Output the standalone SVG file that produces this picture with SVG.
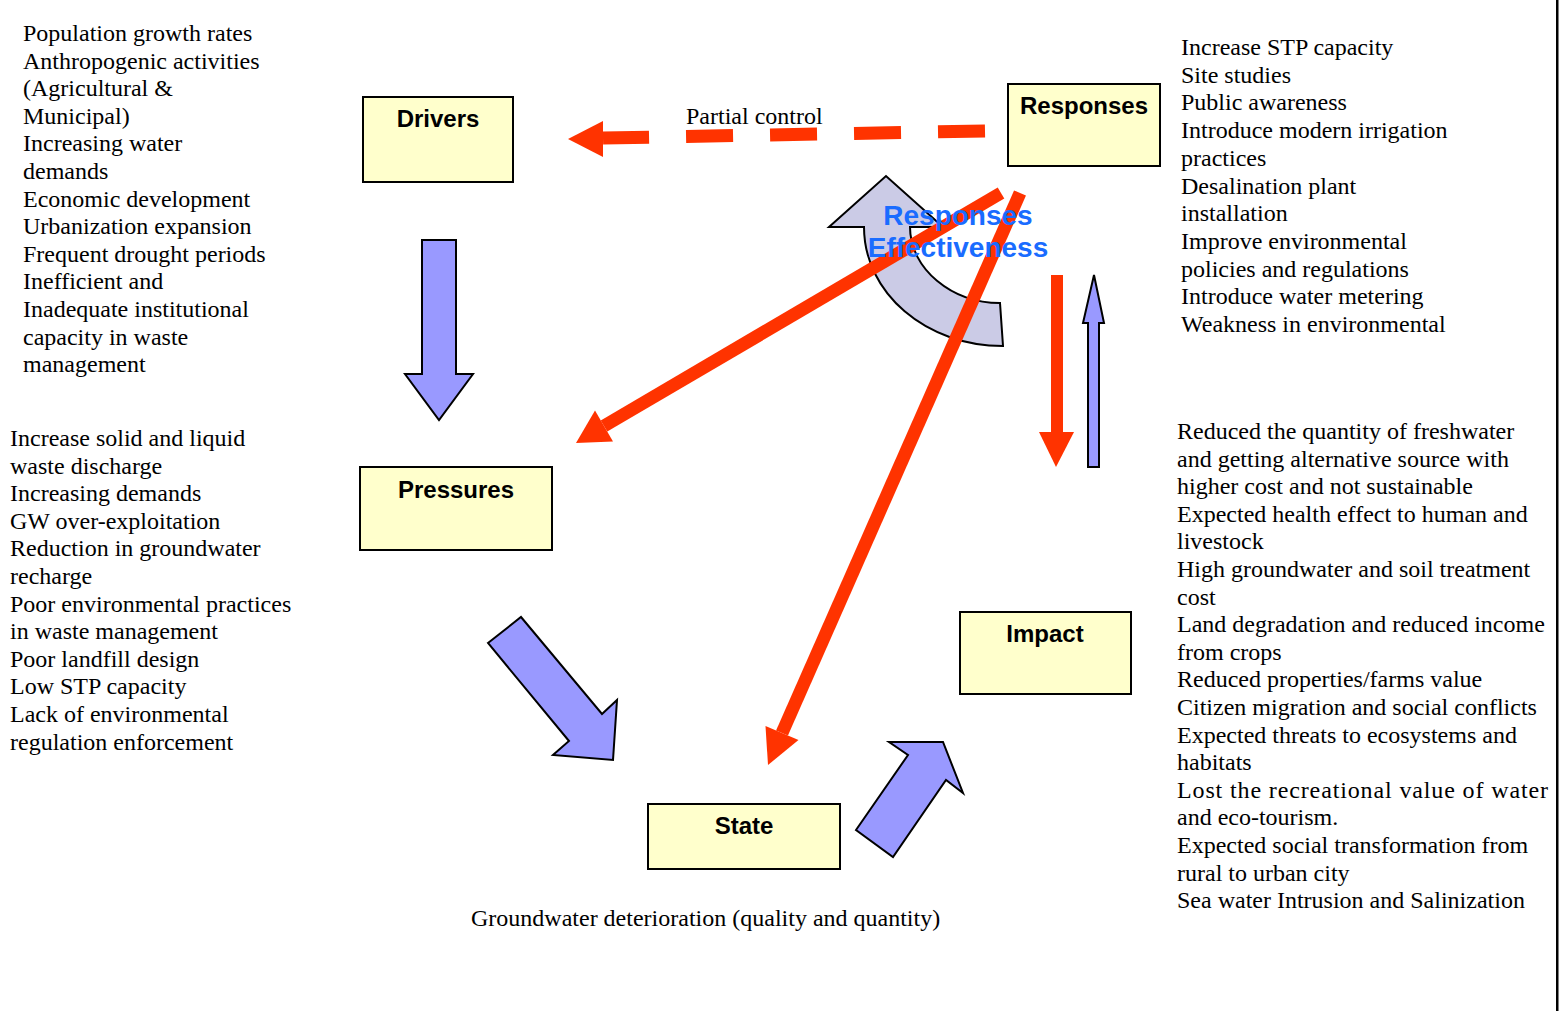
<svg xmlns="http://www.w3.org/2000/svg" width="1559" height="1011" viewBox="0 0 1559 1011">
<style>
.box{fill:#ffffcc;stroke:#000;stroke-width:2}
.lbl{font-family:"Liberation Sans",Arial,sans-serif;font-weight:bold;font-size:24px;fill:#000;text-anchor:middle}
.txt{font-family:"Liberation Serif","Times New Roman",serif;font-size:24px;fill:#000}
.blue{fill:#9999ff;stroke:#000;stroke-width:2;stroke-linejoin:miter}
.red{stroke:#ff3300;stroke-width:13;fill:none}
.redf{fill:#ff3300}
.eff{font-family:"Liberation Sans",Arial,sans-serif;font-weight:bold;font-size:28px;fill:#1a6cff;text-anchor:middle}
</style>
<rect x="0" y="0" width="1559" height="1011" fill="#fff"/>
<rect x="1556" y="0" width="2.5" height="1011" fill="#000"/>

<g id="effectiveness">
<path d="M1003,346 C926,346 864,293 864,227 L829,227 L886,176 L943,227 L910,227 C910,269 952,303 1000,303 Z" fill="#cbcbe6" stroke="#000" stroke-width="2"/>
</g>

<g id="connectors">
<polygon class="blue" points="422,240 456,240 456,374 473,374 439,420 405,374 422,374"/>
<polygon class="blue" points="488,643 521,617 602,714 617,700 613,760 553,755 569,741"/>
<polygon class="blue" points="856,830 908,755 889,742 943,742 963,793 946,780 893,857"/>
<polygon class="blue" points="1088,467 1099,467 1099,323 1104,323 1094,275 1083,323 1088,323"/>
<line class="red" x1="985" y1="131" x2="603" y2="138" stroke-width="12" stroke-dasharray="47 37"/>
<polygon class="redf" points="603,121 603,157 568,139"/>
<line class="red" x1="1001" y1="193" x2="604" y2="426"/>
<polygon class="redf" points="613,441.5 595,410.5 576,443"/>
<line class="red" x1="1020" y1="193" x2="782" y2="733"/>
<polygon class="redf" points="798.5,740 765.5,726 768,765"/>
<rect class="redf" x="1051" y="275" width="12" height="158"/>
<polygon class="redf" points="1039,432 1074,432 1056,467"/>
<text class="txt" x="686" y="124">Partial control</text>
</g>

<g id="drivers"><rect class="box" x="363" y="97" width="150" height="85"/><text class="lbl" x="438" y="127">Drivers</text></g>
<g id="responses"><rect class="box" x="1008" y="84" width="152" height="82"/><text class="lbl" x="1084" y="114">Responses</text></g>
<g id="pressures"><rect class="box" x="360" y="467" width="192" height="83"/><text class="lbl" x="456" y="498">Pressures</text></g>
<g id="impact"><rect class="box" x="960" y="612" width="171" height="82"/><text class="lbl" x="1045" y="642">Impact</text></g>
<g id="state"><rect class="box" x="648" y="804" width="192" height="65"/><text class="lbl" x="744" y="834">State</text></g>

<g id="effectiveness-label">
<text class="eff" x="958" y="225">Responses</text>
<text class="eff" x="958" y="257">Effectiveness</text>
</g>

<g id="driver-list" class="txt">
<text class="txt" x="23" y="41">Population growth rates</text>
<text class="txt" x="23" y="68.6">Anthropogenic activities</text>
<text class="txt" x="23" y="96.2">(Agricultural &amp;</text>
<text class="txt" x="23" y="123.8">Municipal)</text>
<text class="txt" x="23" y="151.4">Increasing water</text>
<text class="txt" x="23" y="179">demands</text>
<text class="txt" x="23" y="206.6">Economic development</text>
<text class="txt" x="23" y="234.2">Urbanization expansion</text>
<text class="txt" x="23" y="261.8">Frequent drought periods</text>
<text class="txt" x="23" y="289.4">Inefficient and</text>
<text class="txt" x="23" y="317">Inadequate institutional</text>
<text class="txt" x="23" y="344.6">capacity in waste</text>
<text class="txt" x="23" y="372.2">management</text>
</g>

<g id="pressure-list">
<text class="txt" x="10" y="446">Increase solid and liquid</text>
<text class="txt" x="10" y="473.6">waste discharge</text>
<text class="txt" x="10" y="501.2">Increasing demands</text>
<text class="txt" x="10" y="528.8">GW over-exploitation</text>
<text class="txt" x="10" y="556.4">Reduction in groundwater</text>
<text class="txt" x="10" y="584">recharge</text>
<text class="txt" x="10" y="611.6">Poor environmental practices</text>
<text class="txt" x="10" y="639.2">in waste management</text>
<text class="txt" x="10" y="666.8">Poor landfill design</text>
<text class="txt" x="10" y="694.4">Low STP capacity</text>
<text class="txt" x="10" y="722">Lack of environmental</text>
<text class="txt" x="10" y="749.6">regulation enforcement</text>
</g>

<g id="response-list">
<text class="txt" x="1181" y="55">Increase STP capacity</text>
<text class="txt" x="1181" y="82.7">Site studies</text>
<text class="txt" x="1181" y="110.4">Public awareness</text>
<text class="txt" x="1181" y="138.1">Introduce modern irrigation</text>
<text class="txt" x="1181" y="165.8">practices</text>
<text class="txt" x="1181" y="193.5">Desalination plant</text>
<text class="txt" x="1181" y="221.2">installation</text>
<text class="txt" x="1181" y="248.9">Improve environmental</text>
<text class="txt" x="1181" y="276.6">policies and regulations</text>
<text class="txt" x="1181" y="304.3">Introduce water metering</text>
<text class="txt" x="1181" y="332">Weakness in environmental</text>
</g>

<g id="impact-list">
<text class="txt" x="1177" y="439">Reduced the quantity of freshwater</text>
<text class="txt" x="1177" y="466.6">and getting alternative source with</text>
<text class="txt" x="1177" y="494.2">higher cost and not sustainable</text>
<text class="txt" x="1177" y="521.8">Expected health effect to human and</text>
<text class="txt" x="1177" y="549.4">livestock</text>
<text class="txt" x="1177" y="577">High groundwater and soil treatment</text>
<text class="txt" x="1177" y="604.6">cost</text>
<text class="txt" x="1177" y="632.2">Land degradation and reduced income</text>
<text class="txt" x="1177" y="659.8">from crops</text>
<text class="txt" x="1177" y="687.4">Reduced properties/farms value</text>
<text class="txt" x="1177" y="715">Citizen migration and social conflicts</text>
<text class="txt" x="1177" y="742.6">Expected threats to ecosystems and</text>
<text class="txt" x="1177" y="770.2">habitats</text>
<text class="txt" x="1177" y="797.8" textLength="371" lengthAdjust="spacing">Lost the recreational value of water</text>
<text class="txt" x="1177" y="825.4">and eco-tourism.</text>
<text class="txt" x="1177" y="853">Expected social transformation from</text>
<text class="txt" x="1177" y="880.6">rural to urban city</text>
<text class="txt" x="1177" y="908.2">Sea water Intrusion and Salinization</text>
</g>

<text class="txt" x="471" y="926">Groundwater deterioration (quality and quantity)</text>
</svg>
